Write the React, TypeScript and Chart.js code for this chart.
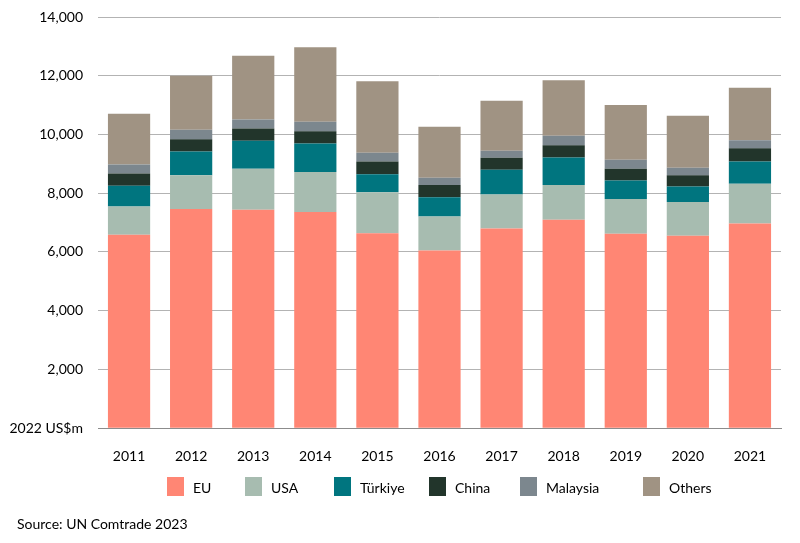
import React, { useEffect, useRef } from "react";
import { Chart, registerables } from "chart.js";

Chart.register(...registerables);

const years = ["2011", "2012", "2013", "2014", "2015", "2016", "2017", "2018", "2019", "2020", "2021"];
const eu = [6590, 7460, 7440, 7360, 6640, 6050, 6800, 7100, 6620, 6550, 6970];
const usa = [960, 1150, 1390, 1360, 1390, 1160, 1160, 1180, 1180, 1150, 1350];
const turkiye = [705, 810, 960, 970, 620, 650, 840, 940, 630, 530, 760];
const china = [420, 420, 410, 420, 430, 420, 410, 410, 400, 380, 450];
const malaysia = [305, 320, 310, 320, 300, 250, 240, 330, 310, 260, 270];
const others = [1730, 1840, 2170, 2540, 2430, 1730, 1700, 1890, 1860, 1770, 1790];

const seriesNames = ["EU", "USA", "Türkiye", "China", "Malaysia", "Others"];
const seriesColors = ["#FF8674", "#A7BCB0", "#00757F", "#22352B", "#7C878E", "#A09383"];
const yTicks = [0, 2000, 4000, 6000, 8000, 10000, 12000, 14000];
const zeroLabel = "2022 US$m";
const sourceText = "Source: UN Comtrade 2023";

const FONT = "Lato, 'Open Sans', sans-serif";
const legendLefts = [167, 245, 334, 429, 520, 643];

export default function App() {
  const ref = useRef<HTMLCanvasElement | null>(null);
  useEffect(() => {
    if (!ref.current) return;
    const values = [eu, usa, turkiye, china, malaysia, others];
    const chart = new Chart(ref.current, {
      type: "bar",
      data: {
        labels: years,
        datasets: values.map((d, i) => ({
          label: seriesNames[i],
          data: d,
          backgroundColor: seriesColors[i],
          borderWidth: 0,
          barPercentage: 0.68,
          categoryPercentage: 1,
        })),
      },
      options: {
        animation: false,
        responsive: false,
        layout: { padding: { left: 10, right: 19, top: 17, bottom: 66 } },
        scales: {
          x: {
            stacked: true,
            grid: { display: false },
            border: { display: true, color: "#8c8c8c", width: 1 },
            ticks: { color: "#000", font: { family: FONT, size: 14 }, padding: 12 },
          },
          y: {
            stacked: true,
            min: 0,
            max: 14000,
            afterBuildTicks: (axis: any) => {
              axis.ticks = yTicks.map((v) => ({ value: v }));
            },
            afterFit: (axis: any) => {
              axis.width = 88;
              axis.paddingTop = 0;
              axis.paddingBottom = 0;
            },
            grid: { color: "#b3b3b3", lineWidth: 1, drawTicks: false },
            border: { display: false },
            ticks: {
              color: "#000",
              font: { family: FONT, size: 14 },
              padding: 15,
              callback: (v: any) => (Number(v) === 0 ? zeroLabel : Number(v).toLocaleString("en-US")),
            },
          },
        },
        plugins: {
          legend: { display: false },
          title: { display: false },
          tooltip: { enabled: false },
        },
      },
    });
    return () => chart.destroy();
  }, []);
  return (
    <div style={{ position: "fixed", left: 0, top: 0, width: 800, height: 543, background: "#fff", fontFamily: FONT }}>
      <canvas ref={ref} width={800} height={543} style={{ display: "block" }} />
      {seriesNames.map((n, i) => (
        <div
          key={n}
          style={{
            position: "absolute",
            left: legendLefts[i],
            top: 477,
            height: 19,
            display: "flex",
            alignItems: "center",
            fontSize: 14,
            color: "#000",
            whiteSpace: "nowrap",
          }}
        >
          <span style={{ display: "inline-block", width: 17, height: 19, background: seriesColors[i], marginRight: 9 }} />
          <span style={{ lineHeight: "19px", position: "relative", top: 1 }}>{n}</span>
        </div>
      ))}
      <div style={{ position: "absolute", left: 17, top: 514, fontSize: 14, lineHeight: "20px", color: "#000" }}>
        {sourceText}
      </div>
    </div>
  );
}
